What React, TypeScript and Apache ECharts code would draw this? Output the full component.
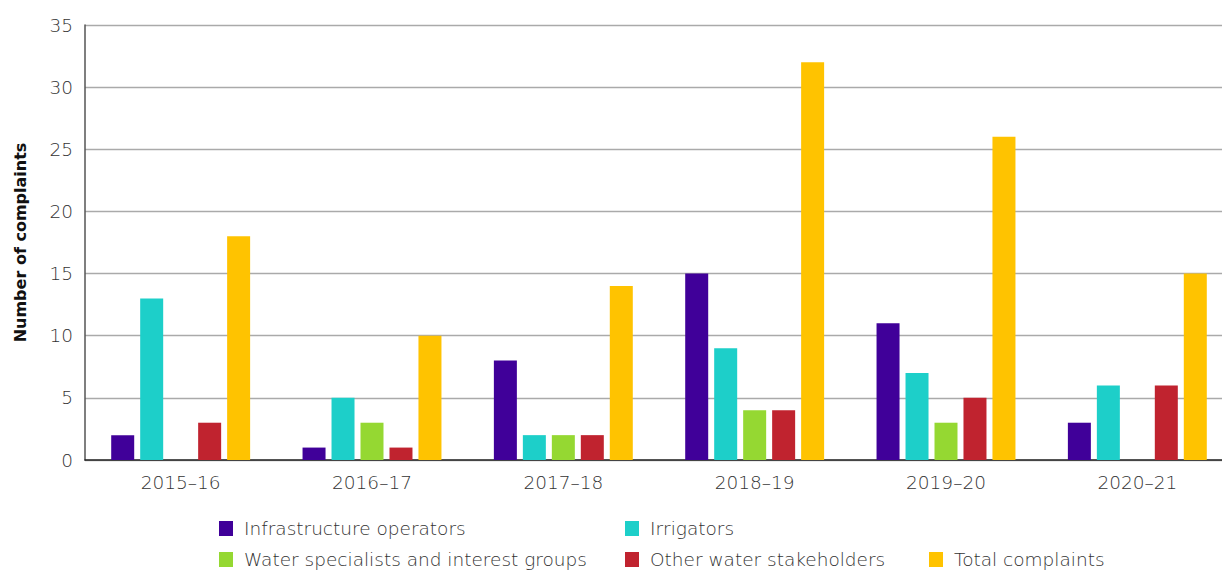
import React, { useEffect, useRef } from "react";
import * as echarts from "echarts";

const categories = ["2015–16", "2016–17", "2017–18", "2018–19", "2019–20", "2020–21"];
const seriesNames = [
  "Infrastructure operators",
  "Irrigators",
  "Water specialists and interest groups",
  "Other water stakeholders",
  "Total complaints",
];
const infrastructure = [2, 1, 8, 15, 11, 3];
const irrigators = [13, 5, 2, 9, 7, 6];
const waterSpecialists = [0, 3, 2, 4, 3, 0];
const otherStakeholders = [3, 1, 2, 4, 5, 6];
const totalComplaints = [18, 10, 14, 32, 26, 15];
const colors = ["#400099", "#1DCFC9", "#95D832", "#C0232F", "#FFC300"];
const legendPos = [
  { left: 214, top: 514 },
  { left: 620, top: 514 },
  { left: 214, top: 545 },
  { left: 620, top: 545 },
  { left: 924, top: 545 },
];

const FONT = "'DejaVu Sans', sans-serif";

export default function App() {
  const ref = useRef<HTMLDivElement>(null);
  useEffect(() => {
    if (!ref.current) return;
    const chart = echarts.init(ref.current, undefined, { renderer: "svg" });
    const values = [infrastructure, irrigators, waterSpecialists, otherStakeholders, totalComplaints];
    chart.setOption({
      animation: false,
      textStyle: { fontFamily: FONT },
      legend: seriesNames.map((n, i) => ({
        data: [n],
        left: legendPos[i].left,
        top: legendPos[i].top,
        itemWidth: 14,
        itemHeight: 15,
        itemGap: 10,
        icon: "rect",
        selectedMode: false,
        textStyle: {
          fontFamily: FONT,
          fontSize: 18.5,
          lineHeight: 19,
          color: "#333",
          fontWeight: 200,
          padding: [0, 0, 0, 6],
        },
      })),
      grid: { left: 85, right: 0, top: 25, bottom: 110, containLabel: false },
      xAxis: {
        type: "category",
        data: categories,
        axisLine: { lineStyle: { color: "#222", width: 1.5 } },
        axisTick: { show: false },
        axisLabel: { fontFamily: FONT, fontSize: 18.5, fontWeight: 200, color: "#333", margin: 13 },
      },
      yAxis: {
        type: "value",
        min: 0,
        max: 35,
        interval: 5,
        name: "Number of complaints",
        nameLocation: "middle",
        nameGap: 57,
        nameRotate: 90,
        nameTextStyle: { fontFamily: FONT, fontSize: 16, fontWeight: "bold", color: "#111" },
        axisLine: { show: true, lineStyle: { color: "#555", width: 1.5 } },
        axisTick: { show: false },
        axisLabel: { fontFamily: FONT, fontSize: 18.5, fontWeight: 200, color: "#333", margin: 12 },
        splitLine: { lineStyle: { color: "#aaa", width: 1.3 } },
      },
      series: seriesNames.map((n, i) => ({
        name: n,
        type: "bar",
        data: values[i],
        barWidth: 23,
        barGap: "26%",
        itemStyle: { color: colors[i] },
      })),
    });
    return () => chart.dispose();
  }, []);
  return (
    <div
      style={{
        position: "fixed",
        left: 0,
        top: 0,
        width: 1222,
        height: 570,
        overflow: "hidden",
        background: "#fff",
      }}
    >
      <div ref={ref} style={{ width: 1233, height: 570 }} />
    </div>
  );
}
